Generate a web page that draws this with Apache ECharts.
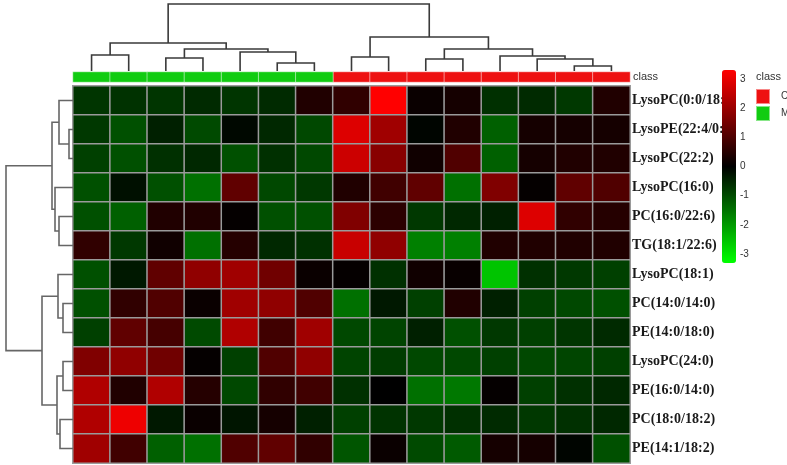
<!DOCTYPE html>
<html>
<head>
<meta charset="utf-8">
<script src="https://cdn.jsdelivr.net/npm/echarts@6/dist/echarts.min.js"></script>
<style>
  html, body { margin: 0; padding: 0; background: #fff; }
  #chart { width: 787px; height: 465px; }
</style>
</head>
<body>
<div id="chart"></div>
<script>
// metabolites (rows, top to bottom)
var rowLabels = [
  "LysoPC(0:0/18:0)", "LysoPE(22:4/0:0)", "LysoPC(22:2)", "LysoPC(16:0)",
  "PC(16:0/22:6)", "TG(18:1/22:6)", "LysoPC(18:1)", "PC(14:0/14:0)",
  "PE(14:0/18:0)", "LysoPC(24:0)", "PE(16:0/14:0)", "PC(18:0/18:2)",
  "PE(14:1/18:2)"
];

// samples (columns, left to right) and their class
var sampleNames = ["M1", "M2", "M3", "M4", "M5", "M6", "M7",
  "C1", "C2", "C3", "C4", "C5", "C6", "C7", "C8"];
var sampleClass = ["M", "M", "M", "M", "M", "M", "M",
  "C", "C", "C", "C", "C", "C", "C", "C"];
var classNames = ["C", "M"];
var classColors = { C: "#ee1111", M: "#11cc11" };

// scaled values, one array per row
var values = [
  [-0.62, -0.59, -0.62, -0.49, -0.62, -0.49, 0.38, 0.56, 3.0, 0.12, 0.25, -0.56, -0.49, -0.66, 0.38],
  [-0.66, -0.94, -0.38, -0.87, -0.09, -0.47, -0.85, 2.6, 1.88, -0.06, 0.38, -1.13, 0.25, 0.25, 0.25],
  [-0.75, -0.94, -0.56, -0.47, -0.94, -0.56, -0.85, 2.4, 1.6, 0.19, 0.94, -1.13, 0.25, 0.38, 0.38],
  [-0.94, -0.19, -0.94, -1.32, 1.13, -0.85, -0.66, 0.38, 0.75, 1.13, -1.32, 1.5, 0.06, 1.13, 0.94],
  [-0.94, -1.13, 0.38, 0.38, 0.06, -0.94, -0.94, 1.5, 0.5, -0.66, -0.47, -0.38, 2.6, 0.56, 0.44],
  [0.56, -0.66, 0.19, -1.32, 0.44, -0.47, -0.56, 2.35, 1.69, -1.5, -1.5, 0.38, 0.38, 0.38, 0.38],
  [-0.94, -0.28, 1.13, 1.69, 1.88, 1.32, 0.12, 0.06, -0.56, 0.19, 0.09, -2.3, -0.56, -0.66, -0.75],
  [-0.94, 0.56, 0.94, 0.12, 1.88, 1.69, 0.94, -1.32, -0.28, -0.75, 0.38, -0.38, -0.75, -0.85, -0.94],
  [-0.75, 1.13, 0.81, -0.87, 2.07, 0.75, 1.88, -0.85, -0.8, -0.38, -0.94, -0.66, -0.75, -0.62, -0.49],
  [1.5, 1.69, 1.32, 0.06, -0.75, 0.94, 1.69, -0.8, -0.7, -0.85, -0.85, -0.75, -0.85, -0.81, -0.75],
  [2.07, 0.38, 2.07, 0.44, -0.85, 0.56, 0.75, -0.56, 0.0, -1.32, -1.41, 0.06, -0.75, -0.56, -0.47],
  [2.07, 2.8, -0.28, 0.12, -0.25, 0.25, -0.38, -0.75, -0.6, -0.66, -0.56, -0.49, -0.66, -0.56, -0.47],
  [1.88, 0.75, -1.13, -1.32, 0.94, 1.13, 0.56, -1.0, 0.12, -0.87, -1.06, 0.25, 0.25, -0.06, -0.94]
];

// clustering merges [nodeA, nodeB, height]; leaves are 0..n-1, merges are numbered after
var colMerges = [
  [0, 1, 16], [2, 3, 13], [5, 6, 8], [4, 17, 19], [16, 18, 22], [15, 19, 28],
  [7, 8, 14], [9, 10, 12], [13, 14, 5], [12, 23, 12], [11, 24, 15], [22, 25, 22],
  [21, 26, 34], [20, 27, 67]
];
var rowMerges = [
  [1, 2, 4], [0, 13, 14], [4, 5, 14], [3, 15, 18], [14, 16, 21],
  [7, 8, 10], [6, 18, 15], [9, 10, 10], [11, 12, 13], [20, 21, 16],
  [19, 22, 31], [17, 23, 67]
];

var scaleMin = -3, scaleMax = 3;

var heatData = [];
values.forEach(function (row, r) {
  row.forEach(function (v, c) {
    heatData.push([c, r, v]);
  });
});

function classData(name) {
  var out = [];
  sampleClass.forEach(function (cl, c) {
    if (cl === name) out.push([c, 0, 1]);
  });
  return out;
}

function dendroLinks(merges, n) {
  var pos = [], ht = [], links = [];
  for (var i = 0; i < n; i++) { pos.push(i + 0.5); ht.push(0); }
  merges.forEach(function (m) {
    var a = m[0], b = m[1], h = m[2];
    links.push([pos[a], ht[a], pos[b], ht[b], h]);
    pos.push((pos[a] + pos[b]) / 2);
    ht.push(h);
  });
  return links;
}

function renderTop(params, api) {
  var pts = [
    api.coord([api.value(0), api.value(1)]),
    api.coord([api.value(0), api.value(4)]),
    api.coord([api.value(2), api.value(4)]),
    api.coord([api.value(2), api.value(3)])
  ];
  return { type: "polyline", shape: { points: pts }, style: { stroke: "#3a3a3a", lineWidth: 1.6, fill: "none" } };
}

function renderLeft(params, api) {
  var pts = [
    api.coord([api.value(1), api.value(0)]),
    api.coord([api.value(4), api.value(0)]),
    api.coord([api.value(4), api.value(2)]),
    api.coord([api.value(3), api.value(2)])
  ];
  return { type: "polyline", shape: { points: pts }, style: { stroke: "#666", lineWidth: 1.6, fill: "none" } };
}

var chart = echarts.init(document.getElementById("chart"));

var option = {
  animation: false,
  title: {
    text: "class",
    left: 756,
    top: 71,
    padding: 0,
    textStyle: { fontSize: 11, fontWeight: "normal", color: "#333", fontFamily: "Liberation Sans" }
  },
  legend: {
    data: classNames.map(function (n) {
      return { name: n, itemStyle: { color: classColors[n] } };
    }),
    left: 755,
    top: 88,
    orient: "vertical",
    icon: "rect",
    itemWidth: 14,
    itemHeight: 15,
    itemGap: 0,
    padding: 0,
    selectedMode: false,
    textStyle: { fontSize: 10, color: "#333", padding: [0, 0, 0, 6] }
  },
  grid: [
    { left: 73, top: 86, width: 557, height: 377 },
    { left: 73, top: 72, width: 557, height: 10 },
    { left: 73, top: 4, width: 557, height: 67 },
    { left: 6, top: 86, width: 67, height: 377 },
    { left: 722, top: 79, width: 14, height: 175 }
  ],
  xAxis: [
    { type: "category", data: sampleNames, gridIndex: 0, show: false },
    { type: "category", data: sampleNames, gridIndex: 1, show: false },
    { type: "value", min: 0, max: sampleNames.length, gridIndex: 2, show: false },
    { type: "value", min: 0, max: 67, inverse: true, gridIndex: 3, show: false },
    { type: "value", min: 0, max: 1, gridIndex: 4, show: false }
  ],
  yAxis: [
    {
      type: "category",
      data: rowLabels,
      inverse: true,
      position: "right",
      gridIndex: 0,
      axisLine: { show: false },
      axisTick: { show: false },
      axisLabel: { margin: 2, fontFamily: "Liberation Serif", fontSize: 14, fontWeight: "bold", color: "#1a1a1a" }
    },
    {
      type: "category",
      data: ["class"],
      position: "right",
      gridIndex: 1,
      axisLine: { show: false },
      axisTick: { show: false },
      axisLabel: { margin: 3, fontFamily: "Liberation Sans", fontSize: 11, color: "#333" }
    },
    { type: "value", min: 0, max: 67, gridIndex: 2, show: false },
    { type: "value", min: 0, max: rowLabels.length, inverse: true, gridIndex: 3, show: false },
    {
      type: "value",
      min: scaleMin,
      max: scaleMax,
      interval: 1,
      position: "right",
      gridIndex: 4,
      axisLine: { show: false },
      axisTick: { show: false },
      splitLine: { show: false },
      axisLabel: { margin: 4, fontSize: 10, color: "#333", fontFamily: "Liberation Sans" }
    }
  ],
  visualMap: {
    type: "continuous",
    seriesIndex: 0,
    min: scaleMin,
    max: scaleMax,
    calculable: false,
    left: 722,
    top: 70,
    padding: 0,
    itemWidth: 14,
    itemHeight: 193,
    inRange: { color: ["#00ff00", "#000000", "#ff0000"] }
  },
  series: [
    {
      type: "heatmap",
      xAxisIndex: 0,
      yAxisIndex: 0,
      data: heatData,
      itemStyle: { borderColor: "#9a9a9a", borderWidth: 1.5 },
      emphasis: { disabled: true }
    },
    {
      name: "C",
      type: "heatmap",
      xAxisIndex: 1,
      yAxisIndex: 1,
      data: classData("C"),
      itemStyle: { color: classColors.C, borderColor: "rgba(255,255,255,0.5)", borderWidth: 1 },
      emphasis: { disabled: true }
    },
    {
      name: "M",
      type: "heatmap",
      xAxisIndex: 1,
      yAxisIndex: 1,
      data: classData("M"),
      itemStyle: { color: classColors.M, borderColor: "rgba(255,255,255,0.5)", borderWidth: 1 },
      emphasis: { disabled: true }
    },
    {
      type: "custom",
      xAxisIndex: 2,
      yAxisIndex: 2,
      renderItem: renderTop,
      data: dendroLinks(colMerges, sampleNames.length)
    },
    {
      type: "custom",
      xAxisIndex: 3,
      yAxisIndex: 3,
      renderItem: renderLeft,
      data: dendroLinks(rowMerges, rowLabels.length)
    }
  ]
};

chart.setOption(option);
</script>
</body>
</html>
